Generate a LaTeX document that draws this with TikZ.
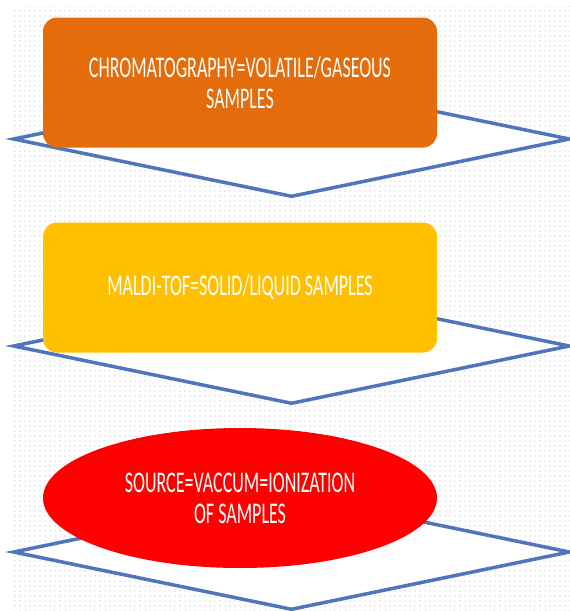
\documentclass[tikz,border=0pt]{standalone}
\usepackage{fontspec}
\newfontfamily\boxfont[FakeStretch=0.6]{Carlito}
\usetikzlibrary{shapes.geometric,patterns.meta}
\definecolor{chromaorange}{RGB}{228,108,10}
\definecolor{maldiyellow}{RGB}{255,192,0}
\definecolor{sourcered}{RGB}{255,0,0}
\definecolor{flowblue}{RGB}{79,117,186}
\definecolor{dotgrey}{RGB}{175,183,200}
\tikzset{
  stage/.style={draw=none, minimum width=394pt, inner sep=0pt, text=white, align=center,
    font={\boxfont\fontsize{30}{31}\selectfont}},
  stagebox/.style={stage, rectangle, rounded corners=14pt, minimum height=130pt},
  stageoval/.style={stage, ellipse, minimum height=140pt},
  funnel/.style={diamond, draw=flowblue, line width=3.5pt, fill=white,
    minimum width=557pt, minimum height=116pt, inner sep=0pt},
}
\begin{document}
\begin{tikzpicture}[x=1pt,y=-1pt]
  \useasboundingbox (0,0) rectangle (570,611);
  % dotted page
  \fill[pattern={Dots[distance=5pt,radius=0.6pt]}, pattern color=dotgrey] (13,6) rectangle (570,611);

  \coordinate (F1) at (291.5,139);
  \coordinate (F2) at (291.5,346);
  \coordinate (F3) at (291.5,552);
  \coordinate (S1) at (240,82.5);
  \coordinate (S2) at (240,287.5);
  \coordinate (S3) at (240,498);

  \node[funnel] (d1) at (F1) {};
  \node[funnel] (d2) at (F2) {};
  \node[funnel] (d3) at (F3) {};

  \node[stagebox, fill=chromaorange] (chroma) at (S1) {CHROMATOGRAPHY=VOLATILE/GASEOUS\\SAMPLES};
  \node[stagebox, fill=maldiyellow] (maldi) at (S2) {MALDI-TOF=SOLID/LIQUID SAMPLES};
  \node[stageoval, fill=sourcered] (source) at (S3) {SOURCE=VACCUM=IONIZATION\\OF SAMPLES};
\end{tikzpicture}
\end{document}
